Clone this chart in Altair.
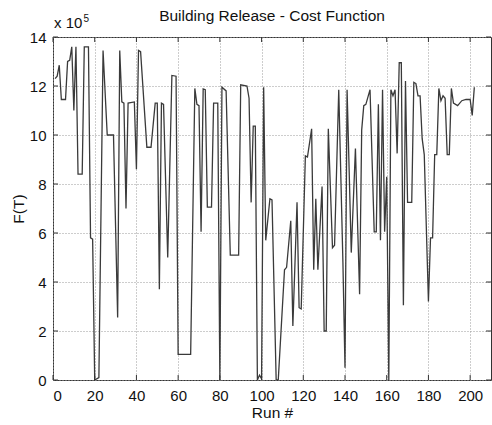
import altair as alt
import pandas as pd

# Run numbers (vertices of the trace) and cost values F(T) in units of 1e5
runs = [1, 2, 3, 4, 6, 7, 8, 9, 10, 11, 12, 14, 15, 17, 18, 19, 20, 22, 24, 26,
        29, 31, 32, 33, 34, 35, 36, 39, 40, 41, 42, 45, 47, 49, 50, 51, 52, 53, 55, 57,
        59, 60, 66, 68, 69, 70, 71, 72, 73, 74, 76, 77, 79, 80, 81, 83, 85, 89, 90, 93,
        94, 95, 96, 97, 98, 99, 100, 101, 102, 104, 105, 107, 108, 111, 112, 114, 115, 117, 118, 119,
        121, 122, 124, 125, 126, 127, 129, 130, 131, 132, 134, 135, 137, 139, 140, 141, 143, 145, 147, 148,
        149, 150, 152, 154, 155, 156, 157, 158, 159, 160, 161, 162, 163, 164, 165, 166, 167, 168, 169, 170,
        172, 173, 174, 175, 176, 177, 178, 180, 181, 182, 183, 184, 185, 186, 187, 188, 189, 190, 191, 192,
        194, 196, 198, 200, 201, 202]
cost = [12.3, 12.4, 12.85, 11.45, 11.45, 13.0, 13.05, 13.6, 11.0, 13.6, 8.4, 8.4, 13.6, 13.6, 5.8, 5.75, 0.0, 0.1, 13.45, 10.0,
        10.0, 2.55, 13.45, 11.35, 11.3, 7.0, 11.3, 11.35, 8.6, 13.45, 13.4, 9.5, 9.5, 11.3, 11.3, 3.7, 11.3, 11.25, 5.0, 12.43,
        12.4, 1.05, 1.05, 11.9, 11.25, 11.2, 6.05, 11.88, 11.85, 7.06, 7.06, 11.3, 11.3, 0.0, 11.95, 11.8, 5.1, 5.1, 12.05, 12.0,
        11.5, 7.25, 10.36, 10.36, 0.0, 0.2, 0.05, 11.95, 5.7, 7.4, 7.35, 0.0, 0.0, 4.5, 4.6, 6.5, 2.2, 7.25, 2.95, 2.9,
        9.15, 9.1, 10.25, 4.5, 7.4, 4.5, 7.9, 2.0, 2.0, 10.25, 5.4, 5.5, 11.85, 4.8, 0.5, 11.85, 5.2, 9.45, 3.5, 10.2,
        11.2, 11.25, 11.85, 6.05, 6.05, 11.25, 5.7, 11.85, 6.05, 8.3, 0.0, 11.85, 11.6, 11.85, 9.25, 12.95, 12.95, 3.05, 12.2, 7.25,
        7.25, 12.15, 12.1, 11.6, 11.6, 9.85, 9.2, 3.2, 5.8, 5.8, 9.2, 9.2, 11.9, 11.4, 11.6, 11.5, 9.2, 9.2, 11.9, 11.3,
        11.2, 11.4, 11.45, 11.45, 10.8, 11.95]

x_ticks = [0, 20, 40, 60, 80, 100, 120, 140, 160, 180, 200]
y_ticks = [0, 2, 4, 6, 8, 10, 12, 14]
title_text = ["Building Release - Cost Function"]
W, H = 438, 343
FONT = "Liberation Sans"

df = pd.DataFrame({"run": runs, "F": cost})
xs = alt.Scale(domain=[0, 210], nice=False, zero=False)
ys = alt.Scale(domain=[0, 14], nice=False)

x_axis = alt.Axis(values=x_ticks, title="Run #", grid=True,
                  gridDash=[1, 2], gridColor="#9a9a9a", ticks=False, domain=False,
                  labelFontSize=15, labelFont=FONT, labelColor="#111", labelPadding=8,
                  titleFontSize=15.5, titleFont=FONT, titleFontWeight="normal", titleColor="#111",
                  titlePadding=2)
y_axis = alt.Axis(values=y_ticks, title="F(T)", grid=True,
                  gridDash=[1, 2], gridColor="#9a9a9a", ticks=False, domain=False,
                  labelFontSize=15, labelFont=FONT, labelColor="#111", labelPadding=7,
                  titleFontSize=15.5, titleFont=FONT, titleFontWeight="normal", titleColor="#111",
                  titlePadding=3)

line = alt.Chart(df).mark_line(color="#3a3a3a", strokeWidth=1.3, clip=True).encode(
    x=alt.X("run:Q", scale=xs, axis=x_axis),
    y=alt.Y("F:Q", scale=ys, axis=y_axis),
)

xt = pd.DataFrame({"run": x_ticks})
yt = pd.DataFrame({"F": y_ticks})
tick_style = dict(color="#333", strokeWidth=1)
xb = alt.Chart(xt).mark_rule(**tick_style).encode(
    x=alt.X("run:Q", scale=xs, axis=x_axis), y=alt.value(H), y2=alt.value(H - 5))
xtop = alt.Chart(xt).mark_rule(**tick_style).encode(
    x=alt.X("run:Q", scale=xs, axis=x_axis), y=alt.value(0), y2=alt.value(5))
yl = alt.Chart(yt).mark_rule(**tick_style).encode(
    y=alt.Y("F:Q", scale=ys, axis=y_axis), x=alt.value(0), x2=alt.value(5))
yr = alt.Chart(yt).mark_rule(**tick_style).encode(
    y=alt.Y("F:Q", scale=ys, axis=y_axis), x=alt.value(W), x2=alt.value(W - 5))

title = alt.Chart(pd.DataFrame({"t": title_text})).mark_text(
    font=FONT, fontSize=15.5, color="#111", align="center", baseline="alphabetic").encode(
    text="t:N", x=alt.value(W / 2), y=alt.value(-16))
mult = alt.Chart(pd.DataFrame({"t": ["x 10"]})).mark_text(
    font=FONT, fontSize=15, color="#111", align="left", baseline="alphabetic").encode(
    text="t:N", x=alt.value(1), y=alt.value(-9.5))
sup = alt.Chart(pd.DataFrame({"t": ["5"]})).mark_text(
    font=FONT, fontSize=10, color="#111", align="left", baseline="alphabetic").encode(
    text="t:N", x=alt.value(30.5), y=alt.value(-15.5))

chart = alt.layer(line, xb, xtop, yl, yr, title, mult, sup).properties(
    width=W, height=H,
    padding={"left": 53, "top": 37, "right": 1, "bottom": 45},
    autosize=alt.AutoSizeParams(type="none"),
    background="white",
).configure_view(stroke="#333", strokeWidth=1)

chart.save("out.html", embed_options={"renderer": "svg", "actions": False})
